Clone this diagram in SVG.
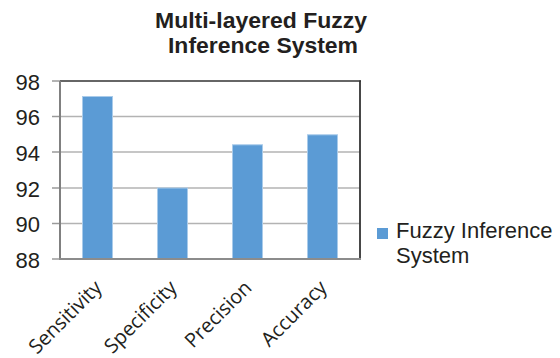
<svg xmlns="http://www.w3.org/2000/svg" width="560" height="358" viewBox="0 0 560 358">
<style>
.title{font-family:"Liberation Sans",Arial,sans-serif;font-weight:bold;font-size:22px;fill:#231f20;text-anchor:middle}
.ylab{font-family:"Liberation Sans",Arial,sans-serif;font-size:22px;fill:#231f20;text-anchor:end}
.xlab{font-family:"Open Sans","Liberation Sans",sans-serif;font-size:20px;fill:#231f20;text-anchor:end}
.leg{font-family:"Liberation Sans",Arial,sans-serif;font-size:22px;fill:#231f20}
.grid{stroke:#b3b3b3;stroke-width:1.5;fill:none}
.tick{stroke:#9a9a9a;stroke-width:1.5}
.bar{fill:#5b9bd5;stroke:#a9cbea;stroke-width:1}
</style>
<rect width="560" height="358" fill="#ffffff"/>
<g id="title">
<text class="title" x="261" y="28" textLength="212" lengthAdjust="spacingAndGlyphs">Multi-layered Fuzzy</text>
<text class="title" x="263" y="53" textLength="190" lengthAdjust="spacingAndGlyphs">Inference System</text>
</g>
<g id="grid">
<line class="grid" x1="60" y1="116.5" x2="360" y2="116.5"/>
<line class="grid" x1="60" y1="152" x2="360" y2="152"/>
<line class="grid" x1="60" y1="188" x2="360" y2="188"/>
<line class="grid" x1="60" y1="223.5" x2="360" y2="223.5"/>
<line class="tick" x1="52" y1="81" x2="60" y2="81"/>
<line class="tick" x1="52" y1="116.5" x2="60" y2="116.5"/>
<line class="tick" x1="52" y1="152" x2="60" y2="152"/>
<line class="tick" x1="52" y1="188" x2="60" y2="188"/>
<line class="tick" x1="52" y1="223.5" x2="60" y2="223.5"/>
<line class="tick" x1="52" y1="259" x2="60" y2="259"/>
</g>
<g id="bars">
<rect class="bar" x="82.5" y="96.5" width="30" height="162.5"/>
<rect class="bar" x="157.5" y="188" width="30" height="71"/>
<rect class="bar" x="232.5" y="144.8" width="30" height="114.2"/>
<rect class="bar" x="307.5" y="134.8" width="30" height="124.2"/>
</g>
<g id="frame">
<line x1="60" y1="81" x2="361" y2="81" stroke="#333333" stroke-width="1.5"/>
<line x1="360" y1="80.5" x2="360" y2="259" stroke="#333333" stroke-width="1.8"/>
<line x1="60" y1="81" x2="60" y2="260" stroke="#808080" stroke-width="2"/>
<line x1="59" y1="259" x2="361" y2="259" stroke="#8c8c8c" stroke-width="2"/>
</g>
<g id="yaxis">
<text class="ylab" x="40" y="89.5">98</text>
<text class="ylab" x="40" y="125">96</text>
<text class="ylab" x="40" y="160.5">94</text>
<text class="ylab" x="40" y="196.5">92</text>
<text class="ylab" x="40" y="232">90</text>
<text class="ylab" x="40" y="267.5">88</text>
</g>
<g id="xaxis">
<text class="xlab" transform="translate(103,289) rotate(-45)">Sensitivity</text>
<text class="xlab" transform="translate(178,289) rotate(-45)">Specificity</text>
<text class="xlab" transform="translate(253,289) rotate(-45)">Precision</text>
<text class="xlab" transform="translate(328,289) rotate(-45)">Accuracy</text>
</g>
<g id="legend">
<rect x="377" y="228" width="11" height="11" fill="#5b9bd5"/>
<text class="leg" x="396" y="238">Fuzzy Inference</text>
<text class="leg" x="396" y="263">System</text>
</g>
</svg>
